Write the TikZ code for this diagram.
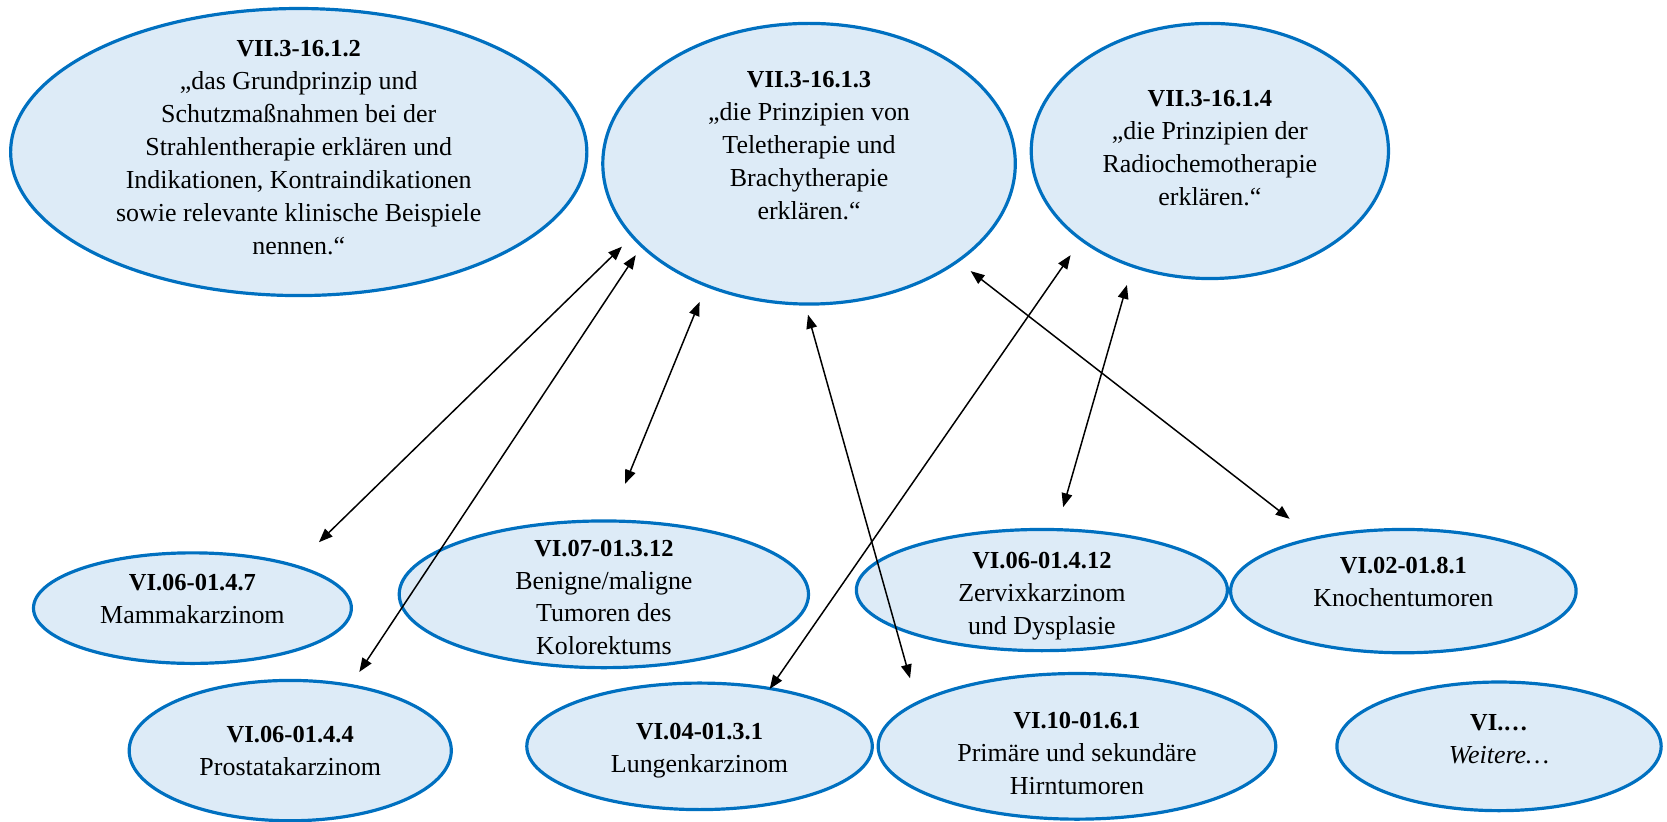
\documentclass[tikz,border=0pt]{standalone}
\usepackage{fontspec}
\setmainfont{Liberation Serif}
\usetikzlibrary{shapes.geometric,arrows.meta}
\definecolor{ellborder}{HTML}{0070C0}
\definecolor{ellfill}{HTML}{DDEBF7}
\newcommand{\hd}[1]{{\fontsize{11.5}{15.5}\selectfont\textbf{#1}}}
\tikzset{
  ell/.style={ellipse, draw=ellborder, fill=ellfill, line width=1.5pt, inner sep=0pt},
  txt/.style={align=center, inner sep=0pt, font=\fontsize{12.2}{15.5}\selectfont},
  link/.style={line width=0.7pt, black, {Triangle[length=6.5pt,width=5pt]}-{Triangle[length=6.5pt,width=5pt]}}
}
\begin{document}
\begin{tikzpicture}[x=0.5pt,y=-0.5pt]
\useasboundingbox (0,0) rectangle (1568,773);
% ellipses (sizes in pt = half of picture units)
\node[ell, minimum width=271pt, minimum height=135pt] (e1) at (281,143) {};
\node[ell, minimum width=194pt, minimum height=132pt] (e2) at (761,154) {};
\node[ell, minimum width=168pt, minimum height=120pt] (e3) at (1138,142) {};
\node[ell, minimum width=149.5pt, minimum height=52pt] (e4) at (181,572) {};
\node[ell, minimum width=192.5pt, minimum height=69pt] (e5) at (568,559) {};
\node[ell, minimum width=174.5pt, minimum height=57pt] (e6) at (980,555) {};
\node[ell, minimum width=162.5pt, minimum height=58pt] (e7) at (1320,556) {};
\node[ell, minimum width=151.5pt, minimum height=66pt] (e8) at (273,706) {};
\node[ell, minimum width=162.5pt, minimum height=59.5pt] (e9) at (658,702) {};
\node[ell, minimum width=187pt, minimum height=68.5pt] (e10) at (1013,702) {};
\node[ell, minimum width=152.5pt, minimum height=60.5pt] (e11) at (1410,702) {};
% texts
\node[txt] (t1) at (281,139) {\hd{VII.3-16.1.2}\\„das Grundprinzip und\\Schutzmaßnahmen bei der\\Strahlentherapie erklären und\\Indikationen, Kontraindikationen\\sowie relevante klinische Beispiele\\nennen.“};
\node[txt] (t2) at (761,137) {\hd{VII.3-16.1.3}\\„die Prinzipien von\\Teletherapie und\\Brachytherapie\\erklären.“};
\node[txt] (t3) at (1138,139) {\hd{VII.3-16.1.4}\\„die Prinzipien der\\Radiochemotherapie\\erklären.“};
\node[txt] (t4) at (181,563) {\hd{VI.06-01.4.7}\\Mammakarzinom};
\node[txt] (t5) at (568,562) {\hd{VI.07-01.3.12}\\Benigne/maligne\\Tumoren des\\Kolorektums};
\node[txt] (t6) at (980,561) {\hd{VI.06-01.4.12}\\Zervixkarzinom\\und Dysplasie};
\node[txt] (t7) at (1320,547) {\hd{VI.02-01.8.1}\\Knochentumoren};
\node[txt] (t8) at (273,706) {\hd{VI.06-01.4.4}\\Prostatakarzinom};
\node[txt] (t9) at (658,706) {\hd{VI.04-01.3.1}\\Lungenkarzinom};
\node[txt] (t10) at (1013,709) {\hd{VI.10-01.6.1}\\Primäre und sekundäre\\Hirntumoren};
\node[txt] (t11) at (1410,695) {\hd{VI.…}\\\textit{Weitere…}};
% arrow end points
\coordinate (a1s) at (585,232); \coordinate (a1e) at (300,510);
\coordinate (a2s) at (598,240); \coordinate (a2e) at (338,632);
\coordinate (a3s) at (658,284); \coordinate (a3e) at (588,455);
\coordinate (a4s) at (760,296); \coordinate (a4e) at (856,638);
\coordinate (a5s) at (913,255); \coordinate (a5e) at (1213,488);
\coordinate (a6s) at (1007,240); \coordinate (a6e) at (724,648);
\coordinate (a7s) at (1060,268); \coordinate (a7e) at (1000,477);
\draw[link] (a1s) -- (a1e);
\draw[link] (a2s) -- (a2e);
\draw[link] (a3s) -- (a3e);
\draw[link] (a4s) -- (a4e);
\draw[link] (a5s) -- (a5e);
\draw[link] (a6s) -- (a6e);
\draw[link] (a7s) -- (a7e);
\end{tikzpicture}
\end{document}
